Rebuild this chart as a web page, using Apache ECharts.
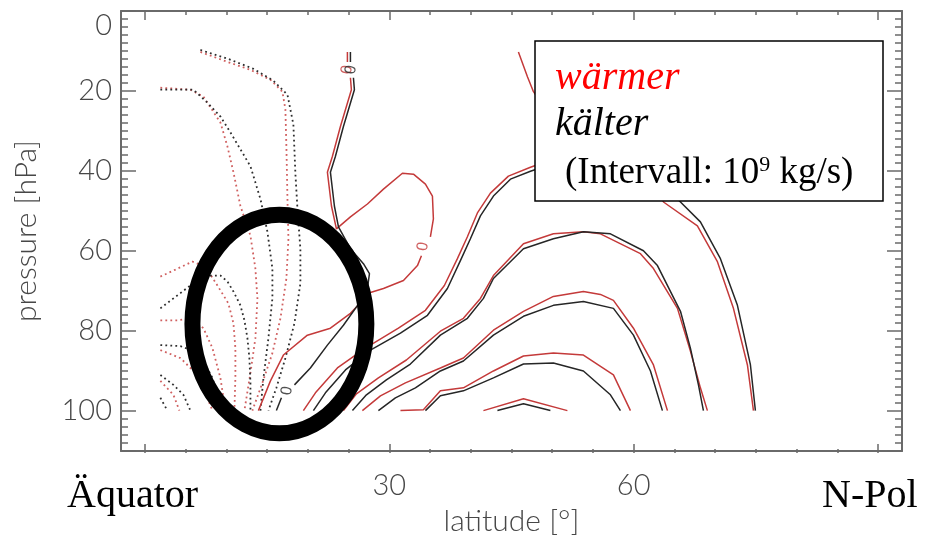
<!DOCTYPE html>
<html><head><meta charset="utf-8">
<script src="https://cdn.jsdelivr.net/npm/echarts@6/dist/echarts.min.js"></script>
<style>html,body{margin:0;padding:0;background:#fff}#c{width:926px;height:541px}</style>
</head><body><div id="c"></div>
<script>
// ---- axis ticks ----
const latLabels = [30, 60];          // labelled latitude ticks
const pressureLabels = [0, 20, 40, 60, 80, 100];

// ---- contour polylines : [latitude (deg), pressure (hPa)] ----
// warmer run (red), solid = positive / zero streamfunction
const warmZeroA = [[24.83,10.24],[24.83,12.72]];
const warmZeroB = [[25.20,16.70],[25.32,19.68],[23.97,28.87],[22.99,36.32],[22.37,40.30],[22.87,48.75],[23.48,54.46],[25.20,51.48],[27.29,48.25],[29.26,44.52],[31.59,40.55],[32.95,40.80],[34.42,43.28],[35.28,46.26],[35.40,51.98],[35.03,56.45]];
const warmZeroC = [[33.93,61.17],[33.44,63.65],[31.72,67.38],[29.26,69.37],[27.66,70.36],[25.20,75.58],[22.74,79.30],[19.91,81.04],[16.96,86.01],[15.37,92.47],[13.89,99.9]];
const warmA = [[19.42,99.9],[20.90,95.45],[23.60,89.24],[27.04,84.27],[31.10,79.30],[34.42,74.83],[36.75,68.62],[38.35,61.91],[39.58,56.45],[40.81,50.48],[42.41,45.52],[44.62,41.29],[47.33,39.06],[53.47,34.58],[59.62,37.57],[62.69,44.03],[63.68,47.75],[67.85,53.71],[70.31,62.66],[72.28,74.34],[74.0,88.49],[74.74,99.9]];
const warmB = [[24.34,99.9],[25.94,95.70],[28.64,91.73],[32.08,87.25],[36.26,80.05],[39.09,76.82],[41.18,71.85],[42.78,66.14],[46.47,58.19],[50.15,55.70],[53.84,55.20],[55.93,55.70],[60.85,60.67],[62.45,64.40],[65.40,74.34],[66.99,85.02],[68.22,94.21],[69.08,99.9]];
const warmC = [[26.67,99.9],[28.89,96.2],[31.96,92.97],[36.26,89.24],[39.09,86.76],[42.78,79.80],[46.47,75.08],[50.15,71.36],[53.84,70.11],[55.93,70.86],[57.53,72.35],[59.99,79.30],[62.45,88.49],[64.17,99.9]];
const warmD = [[31.35,99.9],[34.17,99.67],[36.26,94.96],[39.09,94.21],[42.78,89.99],[46.47,86.26],[50.15,85.52],[53.84,86.01],[57.53,90.98],[59.62,99.9]];
const warmE = [[41.55,99.9],[46.47,96.94],[51.87,99.9]];
const warmTop = [[45.85,10.24],[46.96,16.45],[47.7,20.17],[49.17,24.65],[51.5,28.5]];
// warmer run, dotted = negative
const warmNeg1 = [[6.76,10.24],[10.08,12.72],[12.91,14.71],[15.37,17.19],[16.84,20.17],[17.21,24.65],[17.34,34.58],[17.46,47.01],[17.58,56.94],[17.33,66.88],[16.60,76.82],[15.61,85.52],[14.38,92.97],[13.15,99.9]];
const warmNeg2 = [[1.84,19.18],[5.53,19.68],[7.13,21.42],[9.22,27.88],[10.08,33.84],[10.82,40.30],[11.68,48.75],[12.91,56.20],[13.52,64.40],[13.77,71.85],[13.52,81.79],[12.91,90.48],[12.17,99.9]];
const warmNeg3 = [[1.84,66.39],[3.69,64.65],[5.78,62.66],[7.38,63.90],[8.85,68.62],[10.20,73.09],[10.82,78.06],[11.06,84.27],[11.06,91.73],[10.94,99.9]];
const warmNeg4 = [[1.84,77.32],[3.93,77.32],[5.78,76.82],[7.13,79.30],[8.24,84.27],[9.22,91.73],[9.83,99.9]];
const warmNeg5 = [[1.84,84.77],[4.30,86.76],[6.15,90.48],[7.38,95.45],[8.24,99.9]];
const warmNeg6 = [[1.84,92.47],[3.44,95.95],[4.18,99.9]];

// colder run (black)
const coldZeroA = [[25.20,10.24],[25.20,12.72]];
const coldZeroB = [[25.57,16.70],[25.69,19.68],[24.34,28.87],[23.36,36.32],[22.74,40.30],[23.23,48.75],[23.73,53.97],[25.20,59.43],[26.80,63.16],[27.54,65.64],[27.29,69.37],[26.43,72.60],[24.34,78.56],[22.37,83.53],[20.28,89.24],[18.32,93.47]];
const coldZeroC = [[16.72,96.70],[16.10,99.9]];
const coldA = [[20.65,99.9],[22.13,95.45],[24.59,89.74],[27.66,84.77],[31.35,80.55],[34.67,76.07],[37.12,69.37],[38.72,62.41],[39.95,56.94],[41.18,51.23],[42.78,46.26],[44.87,42.04],[47.33,40.05],[53.47,35.83],[59.62,38.31],[63.92,44.03],[65.77,47.75],[68.22,52.72],[70.68,61.91],[72.77,73.59],[74.37,88.49],[74.98,99.9]];
const coldB = [[25.45,99.9],[27.17,95.95],[29.62,92.23],[32.57,88.25],[36.26,81.04],[39.58,76.82],[41.55,71.85],[42.78,66.88],[46.47,59.43],[50.15,56.94],[53.84,55.20],[57.16,55.70],[61.22,59.93],[62.94,63.65],[65.77,75.08],[66.99,84.27],[67.98,93.47],[68.59,99.9]];
const coldC = [[28.64,99.9],[30.73,96.70],[33.19,94.21],[36.26,89.99],[39.09,87.50],[42.78,81.04],[46.47,76.32],[50.15,73.59],[53.84,72.60],[57.53,74.34],[59.99,81.04],[62.08,89.99],[63.55,99.9]];
const coldD = [[34.42,99.9],[36.26,96.2],[39.09,94.96],[42.78,91.73],[46.47,88.25],[50.15,88.0],[53.84,89.99],[57.16,95.95],[58.39,99.9]];
const coldE = [[43.27,99.9],[46.47,98.19],[49.78,99.9]];
const coldNeg1 = [[6.76,9.74],[10.20,11.98],[13.28,14.46],[15.74,17.44],[17.46,20.92],[18.19,28.37],[18.44,40.80],[18.69,49.49],[19.05,59.43],[19.05,68.13],[18.32,78.06],[17.21,86.76],[16.10,94.21],[15.12,99.9]];
const coldNeg2 = [[1.84,19.68],[5.90,19.68],[7.62,22.91],[9.22,26.39],[10.45,30.36],[11.68,34.58],[12.91,38.81],[14.14,47.01],[15.00,55.21],[15.61,64.40],[15.61,71.85],[15.12,81.79],[14.51,91.73],[14.14,99.9]];
const coldNeg3 = [[1.84,74.34],[3.44,71.85],[5.53,68.62],[7.62,66.14],[9.22,66.14],[10.08,67.63],[10.82,70.11],[11.68,73.59],[12.17,77.32],[12.54,81.79],[12.78,86.76],[12.91,92.97],[12.91,99.9]];
const coldNeg4 = [[1.84,83.53],[4.30,83.78],[5.90,85.02],[7.13,87.50],[8.24,91.73],[8.97,96.70],[9.34,99.9]];
const coldNeg5 = [[1.84,90.98],[3.44,93.47],[4.67,95.95],[5.53,99.9]];
const coldNeg6 = [[1.84,96.70],[2.70,99.9]];

// contour labels "0"
const warmZeroLabels = [[24.83,14.71],[34.17,58.93]];
const coldZeroLabels = [[25.32,14.71],[17.46,94.96]];

// highlighted region (centre lat/p, half-extent lat/p)
const ringCenter = [16.47, 78.26];
const ringHalf = [10.69, 27.33];

const RED = '#c43a3a', BLACK = '#262626', RED_DOT = '#d06060', BLACK_DOT = '#2e2e2e';
const AXIS = '#6a6a6a', TXT = '#474747';

function ln(data, color, dotted) {
  return {type:'line', xAxisIndex:0, yAxisIndex:0, data, symbol:'none', silent:true,
    lineStyle:{color, width: dotted ? 1.8 : 1.5, type: dotted ? [1.8, 3.2] : 'solid', cap:'butt'}};
}
const series = [
  ...[warmNeg1,warmNeg2,warmNeg3,warmNeg4,warmNeg5,warmNeg6].map(d => ln(d, RED_DOT, true)),
  ...[coldNeg1,coldNeg2,coldNeg3,coldNeg4,coldNeg5,coldNeg6].map(d => ln(d, BLACK_DOT, true)),
  ...[warmZeroA,warmZeroB,warmZeroC,warmA,warmB,warmC,warmD,warmE,warmTop].map(d => ln(d, RED, false)),
  ...[coldZeroA,coldZeroB,coldZeroC,coldA,coldB,coldC,coldD,coldE].map(d => ln(d, BLACK, false)),
  {type:'scatter', xAxisIndex:0, yAxisIndex:0, data: warmZeroLabels, symbolSize:0, silent:true,
   label:{show:true, position:'inside', formatter:'0', color:RED, fontSize:15, fontFamily:'DejaVu Sans', rotate:80}},
  {type:'scatter', xAxisIndex:0, yAxisIndex:0, data: coldZeroLabels, symbolSize:0, silent:true,
   label:{show:true, position:'inside', formatter:'0', color:BLACK, fontSize:15, fontFamily:'DejaVu Sans', rotate:80}}
];

const frameAxis = {type:'value', min:-3, max:93, axisLine:{show:true, onZero:false, lineStyle:{color:AXIS, width:2}},
  axisTick:{show:false}, axisLabel:{show:false}, splitLine:{show:false}};
const tickAxis = {type:'value', gridIndex:1, min:0, max:90, interval:30,
  axisLine:{show:false}, axisTick:{show:true, inside:true, length:9, lineStyle:{color:AXIS, width:1.5}},
  minorTick:{show:true, splitNumber:6, length:4, lineStyle:{color:AXIS, width:1.5}}, splitLine:{show:false}};
const yBase = {type:'value', min:0, max:110, interval:20, inverse:true,
  axisLine:{show:true, onZero:false, lineStyle:{color:AXIS, width:2}},
  axisTick:{show:true, inside:true, length:15, lineStyle:{color:AXIS, width:1.5}},
  minorTick:{show:true, splitNumber:10, length:7, lineStyle:{color:AXIS, width:1.5}}, splitLine:{show:false}};

const option = {
  animation:false,
  backgroundColor:'#fff',
  grid:[{left:121, right:24, top:11, bottom:88}, {left:145, right:48, top:11, bottom:88}],
  xAxis:[
    Object.assign({}, frameAxis, {position:'bottom', name:'latitude [°]', nameLocation:'middle', nameGap:55,
      nameTextStyle:{fontFamily:'Lato', fontWeight:300, fontSize:30, color:TXT}}),
    Object.assign({}, frameAxis, {position:'top'}),
    Object.assign({}, tickAxis, {position:'bottom', axisLabel:{show:true, margin:18, fontFamily:'Lato', fontWeight:300, fontSize:29, color:TXT,
      formatter: v => latLabels.includes(v) ? String(v) : ''}}),
    Object.assign({}, tickAxis, {position:'top', axisLabel:{show:false}})
  ],
  yAxis:[
    Object.assign({}, yBase, {position:'left', name:'pressure [hPa]', nameLocation:'middle', nameGap:80, nameRotate:90,
      nameTextStyle:{fontFamily:'Lato', fontWeight:300, fontSize:30, color:TXT},
      axisLabel:{show:true, margin:9, fontFamily:'Lato', fontWeight:300, fontSize:29, color:TXT, verticalAlignMinLabel:'top',
        formatter: v => pressureLabels.includes(v) ? String(v) : ''}}),
    Object.assign({}, yBase, {position:'right', axisLabel:{show:false}}),
    {type:'value', gridIndex:1, show:false, min:0, max:110}
  ],
  series
};

const chart = echarts.init(document.getElementById('c'), null, {renderer:'canvas'});
chart.setOption(option);

const pc = chart.convertToPixel({xAxisIndex:0, yAxisIndex:0}, ringCenter);
const pe = chart.convertToPixel({xAxisIndex:0, yAxisIndex:0}, [ringCenter[0] + ringHalf[0], ringCenter[1] + ringHalf[1]]);
const SERIF = '"Liberation Serif", "DejaVu Serif", serif';
chart.setOption({
  graphic:[
    {type:'ellipse', z:100, shape:{cx:pc[0], cy:pc[1], rx:Math.abs(pe[0]-pc[0]), ry:Math.abs(pe[1]-pc[1])},
     style:{fill:null, stroke:'#000', lineWidth:16}},
    {type:'rect', z:101, shape:{x:535, y:41, width:348, height:160}, style:{fill:'#fff', stroke:'#000', lineWidth:1.5}},
    {type:'text', z:102, x:555, y:78, style:{text:'wärmer', fill:'#ff0000', font:'italic 40px ' + SERIF, verticalAlign:'middle'}},
    {type:'text', z:102, x:555, y:124, style:{text:'kälter', fill:'#000', font:'italic 40px ' + SERIF, verticalAlign:'middle'}},
    {type:'text', z:102, x:565, y:173, style:{text:'{n|(Intervall: 10}{s|9}{n| kg/s)}', fill:'#000', verticalAlign:'middle',
      rich:{n:{fontSize:37, fontFamily:SERIF, fill:'#000'}, s:{fontSize:22, fontFamily:SERIF, fill:'#000', padding:[0,0,16,0]}}}},
    {type:'text', z:102, x:67, y:496, style:{text:'Äquator', fill:'#000', font:'40px ' + SERIF, verticalAlign:'middle'}},
    {type:'text', z:102, x:822, y:496, style:{text:'N-Pol', fill:'#000', font:'40px ' + SERIF, verticalAlign:'middle'}}
  ]
});
</script>
</body></html>
